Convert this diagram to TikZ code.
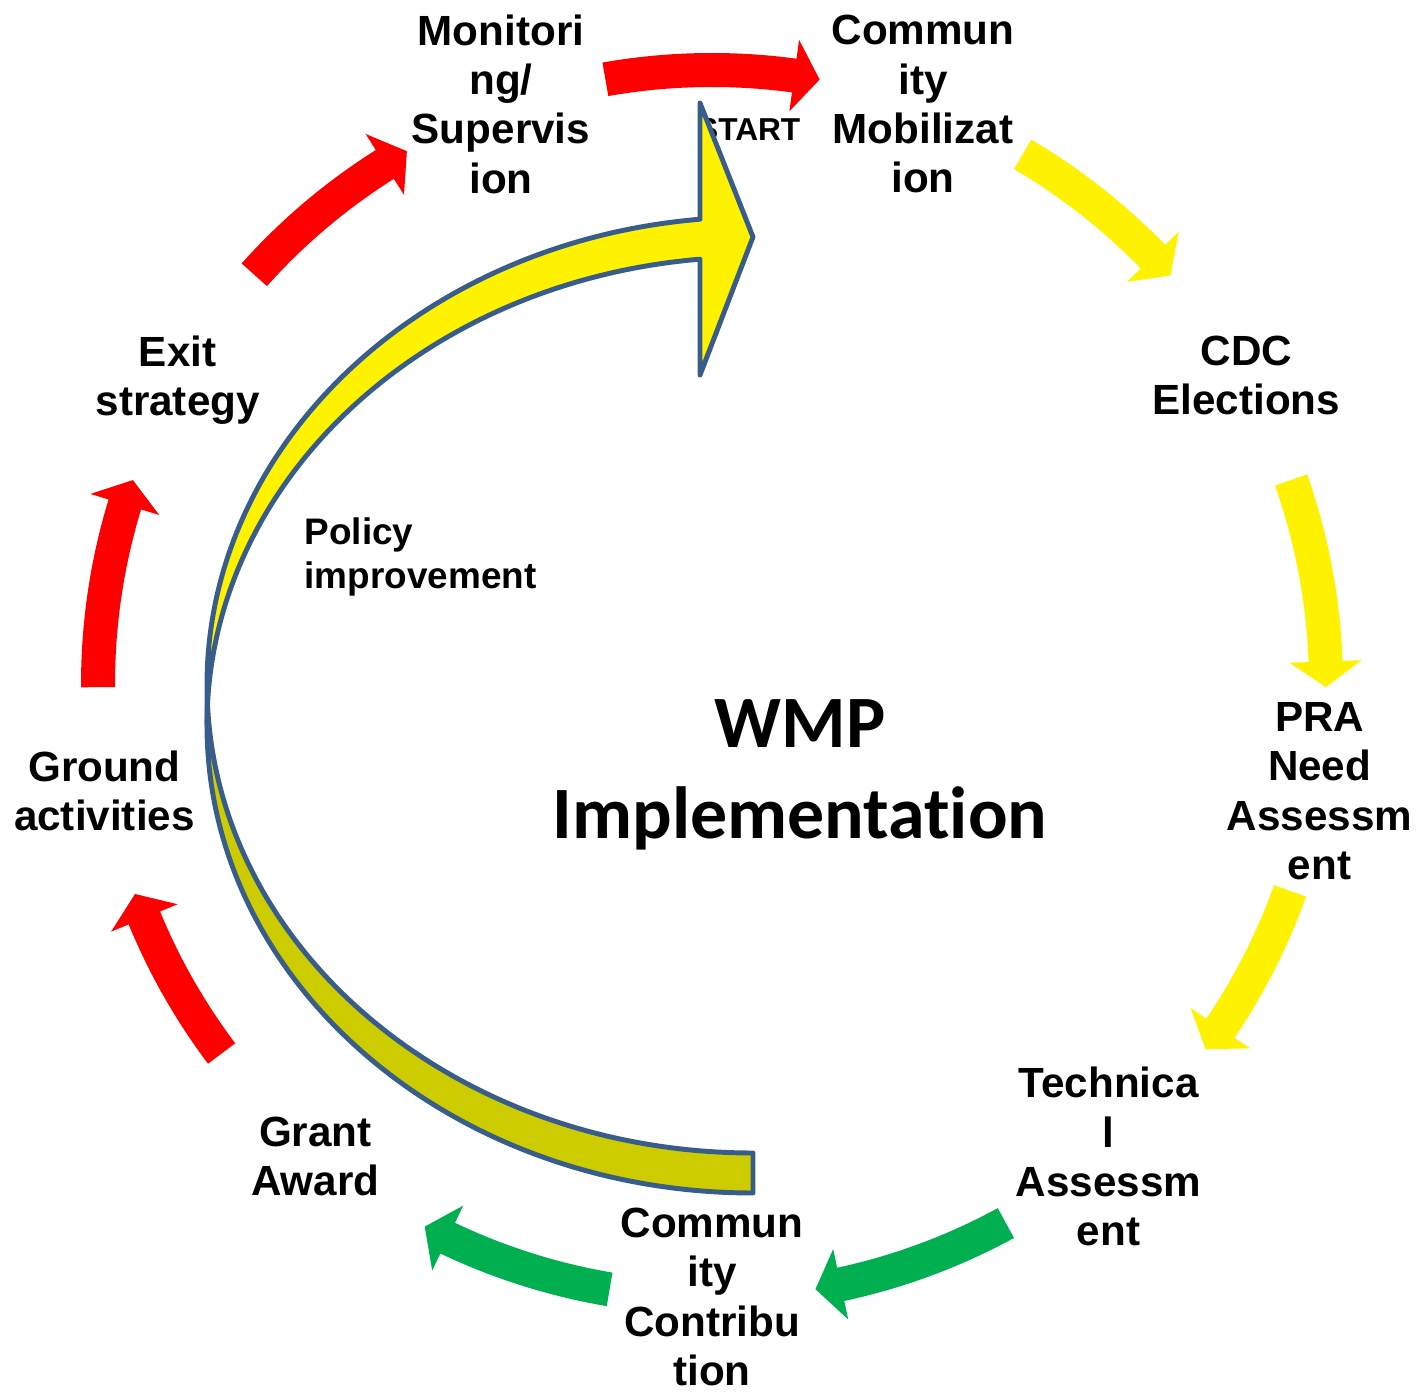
\documentclass[tikz,border=0pt]{standalone}
\usepackage{fontspec}
\setmainfont{Liberation Sans}
\newfontfamily\calibri[Ligatures=NoCommon]{Carlito}
\definecolor{wmpgreen}{HTML}{00B050}
\definecolor{wmpolive}{HTML}{CCCC00}
\definecolor{wmpblue}{HTML}{385D8A}
\begin{document}
\begin{tikzpicture}[x=0.01cm,y=0.01cm,
    lbl/.style={align=center,inner sep=0pt,font=\bfseries\fontsize{12}{14}\selectfont},
    band/.style={draw=wmpblue,line width=1.4pt,line join=round}]
\useasboundingbox (-712,-708) rectangle (709,684);
\foreach \s/\e/\c in {100/79.9/red,59.6/41.7/yellow,19.4/-0.3/yellow,-19.7/-36.5/yellow,-61.4/-80.3/wmpgreen,
    -99.6/-117.9/wmpgreen,-143/-160/red,180.3/160.6/red,138.2/119.8/red}
  \fill[\c] (\s:631) arc[start angle=\s,end angle=\e+2.4,radius=631] -- (\e+2.4:650) -- (\e:614)
    -- (\e+2.4:578) -- (\e+2.4:597) arc[start angle=\e+2.4,end angle=\s,radius=597] -- cycle;
\node[lbl] (mobil) at (70:617) {Commun\\ity\\Mobilizat\\ion};
\node[lbl] (cdc) at (30:617) {CDC\\Elections};
\node[lbl] (pra) at (-10:617) {PRA\\Need\\Assessm\\ent};
\node[lbl] (tech) at (-50:617) {Technica\\l\\Assessm\\ent};
\node[lbl] (contrib) at (0,-613) {Commun\\ity\\Contribu\\tion};
\node[lbl] (grant) at (-130:617) {Grant\\Award};
\node[lbl] (ground) at (-170:617) {Ground\\activities};
\node[lbl,text depth=0pt] (exit) at (150:617) {Exit\\strategy};
\node[lbl] (monitor) at (110:617) {Monitori\\ng/\\Supervis\\ion};
\node[inner sep=0pt,anchor=north east,font=\bfseries\fontsize{9}{11}\selectfont] (start) at (89,566) {START};
\draw[band,fill=yellow] (-505,-1) arc[start angle=180,end angle=95.57,x radius=546,y radius=468]
  -- (-12,581) -- (41,447) -- (-12,309) -- (-12,424.8)
  arc[start angle=95.57,end angle=180,x radius=546,y radius=468] -- cycle;
\draw[band,fill=wmpolive] (41,-469) arc[start angle=270,end angle=182.45,x radius=546,y radius=468]
  -- (-505,-41) arc[start angle=180,end angle=270,x radius=546,y radius=468] -- cycle;
\node[inner sep=0pt,anchor=north west,align=left,font=\bfseries\fontsize{10.5}{12.5}\selectfont] (policy) at (-408,167) {Policy\\improvement};
\node[align=center,inner sep=0pt,font=\calibri\bfseries\fontsize{21}{26}\selectfont] (wmp) at (88,-91) {WMP\\Implementation};
\end{tikzpicture}
\end{document}
